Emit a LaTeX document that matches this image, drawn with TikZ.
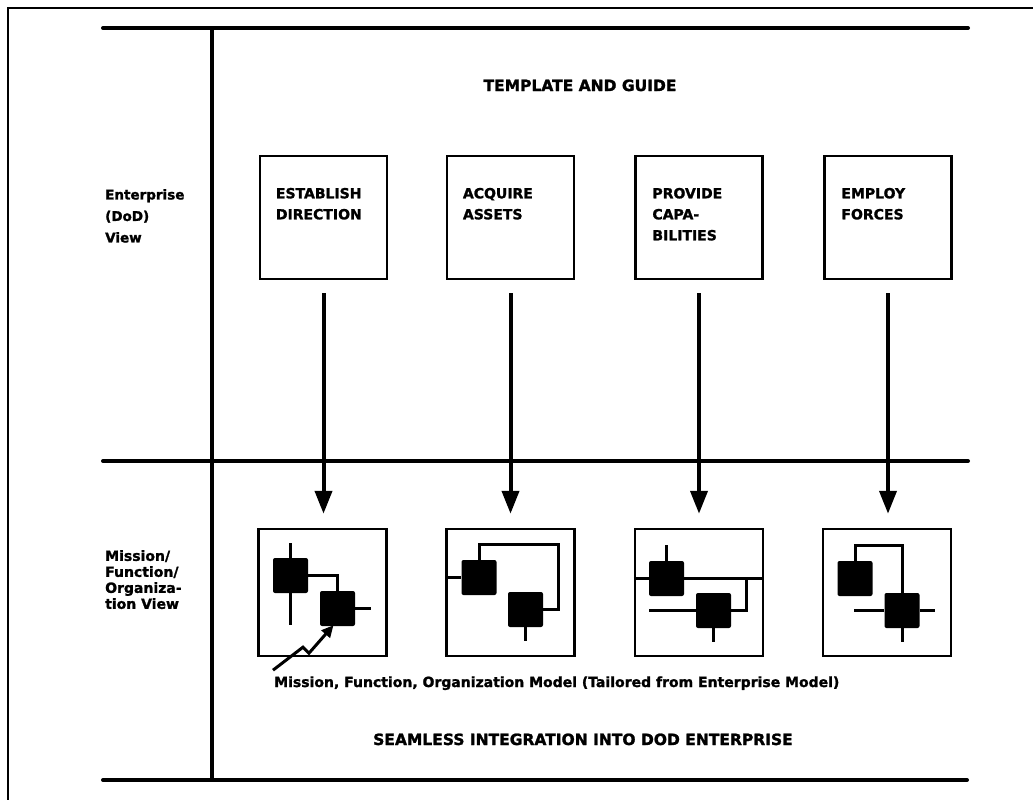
\documentclass[tikz,border=0pt]{standalone}
\usepackage{fontspec}
\setmainfont{DejaVu Sans}[BoldFeatures={FakeBold=1.5}]
\usetikzlibrary{arrows.meta}
\begin{document}
\begin{tikzpicture}[x=1pt,y=-1pt,
  rule/.style={line width=4pt,line cap=round},
  topbox/.style={draw,line width=2.5pt,minimum width=127pt,minimum height=123pt,inner sep=0pt},
  modelbox/.style={draw,line width=2.5pt,minimum width=128pt,minimum height=127pt,inner sep=0pt},
  unit/.style={fill=black,rounded corners=2pt,minimum size=35pt,inner sep=0pt},
  wire/.style={line width=3pt},
  flow/.style={line width=4pt,-{Triangle[width=17pt,length=23pt]}},
  boxtext/.style={anchor=north west,inner sep=0pt,align=left,font=\bfseries\fontsize{14}{21}\selectfont},
  sidetext/.style={anchor=north west,inner sep=0pt,align=left},
  heading/.style={anchor=base,inner sep=0pt,font=\bfseries\fontsize{15.5}{18}\selectfont}]
\useasboundingbox (0,0) rectangle (1033,800);

\draw[line width=2pt] (8,800) -- (8,8) -- (1033,8);
\draw[rule] (103,28) -- (968,28);
\draw[rule] (103,461) -- (968,461);
\draw[rule] (103,780) -- (967,780);
\draw[line width=4pt] (212,28) -- (212,780);

\node[heading] (tmpl) at (580,91) {TEMPLATE AND GUIDE};
\node[heading] (seam) at (583,745) {SEAMLESS INTEGRATION INTO DOD ENTERPRISE};

\node[sidetext,font=\bfseries\fontsize{13.5}{21.5}\selectfont] (ent) at (105,189) {Enterprise\\(DoD)\\View};
\node[sidetext,font=\bfseries\fontsize{14}{16}\selectfont] (mfo) at (105,550) {Mission/\\Function/\\Organiza-\\tion View};

\node[topbox] (est) at (323.5,217.5) {};
\node[topbox] (acq) at (510.5,217.5) {};
\node[topbox] (pro) at (699,217.5) {};
\node[topbox] (emp) at (888,217.5) {};

\node[boxtext] at ([xshift=17pt,yshift=-33pt]est.north west) {ESTABLISH\\DIRECTION};
\node[boxtext] at ([xshift=17pt,yshift=-33pt]acq.north west) {ACQUIRE\\ASSETS};
\node[boxtext] at ([xshift=18pt,yshift=-33pt]pro.north west) {PROVIDE\\CAPA-\\BILITIES};
\node[boxtext] at ([xshift=18pt,yshift=-33pt]emp.north west) {EMPLOY\\FORCES};

\node[modelbox] (m1) at (322.5,592.5) {};
\node[modelbox] (m2) at (510.5,592.5) {};
\node[modelbox] (m3) at (699,592.5) {};
\node[modelbox] (m4) at (887,592.5) {};

\draw[flow] ([yshift=-13pt]est.south) -- ([yshift=14pt]est.south |- m1.north);
\draw[flow] ([yshift=-13pt]acq.south) -- ([yshift=14pt]acq.south |- m2.north);
\draw[flow] ([yshift=-13pt]pro.south) -- ([yshift=14pt]pro.south |- m3.north);
\draw[flow] ([yshift=-13pt]emp.south) -- ([yshift=14pt]emp.south |- m4.north);

% first model
\node[unit] (a1) at (290.5,575.5) {};
\node[unit] (b1) at (337.5,608.5) {};
\draw[wire] (a1.north) -- ++(0,-15);
\draw[wire] (a1.south) -- ++(0,32);
\draw[wire] (a1.east) -| (b1.north);
\draw[wire] (b1.east) -- ++(16,0);

% second model
\node[unit] (a2) at (479,577.5) {};
\node[unit] (b2) at (525.5,609.5) {};
\draw[wire] (m2.west |- a2) -- (a2.west);
\draw[wire] (a2.north) -- ++(0,-15) -- ++(79,0) |- (b2.east);
\draw[wire] (b2.south) -- ++(0,14);

% third model
\node[unit] (a3) at (666.5,578.5) {};
\node[unit] (b3) at (713.5,610.5) {};
\path (m3.east |- a3) coordinate (r3);
\draw[wire] (a3.north) -- ++(0,-16);
\draw[wire] (m3.west |- a3) -- (r3);
\draw[wire] ([xshift=-18pt]r3) |- (b3.east);
\draw[wire] (b3.west) -- ++(-47,0);
\draw[wire] (b3.south) -- ++(0,14);

% fourth model
\node[unit] (a4) at (855,578.5) {};
\node[unit] (b4) at (902,610.5) {};
\draw[wire] (a4.north) -- ++(0,-15) -| (b4.north);
\draw[wire] (b4.west) -- ++(-30,0);
\draw[wire] (b4.east) -- ++(15,0);
\draw[wire] (b4.south) -- ++(0,14);

\node[anchor=base west,inner sep=0pt,font=\bfseries\fontsize{14}{16}\selectfont] (mfom) at (274,687) {Mission, Function, Organization Model (Tailored from Enterprise Model)};
\coordinate (bolt) at ([xshift=-1pt,yshift=6pt]mfom.north west);
\draw[wire,-{Triangle[width=11pt,length=12pt]}] (bolt) -- ++(30,-23) -- ++(6,6) -- ([xshift=-4pt,yshift=1pt]b1.south);
\end{tikzpicture}
\end{document}
